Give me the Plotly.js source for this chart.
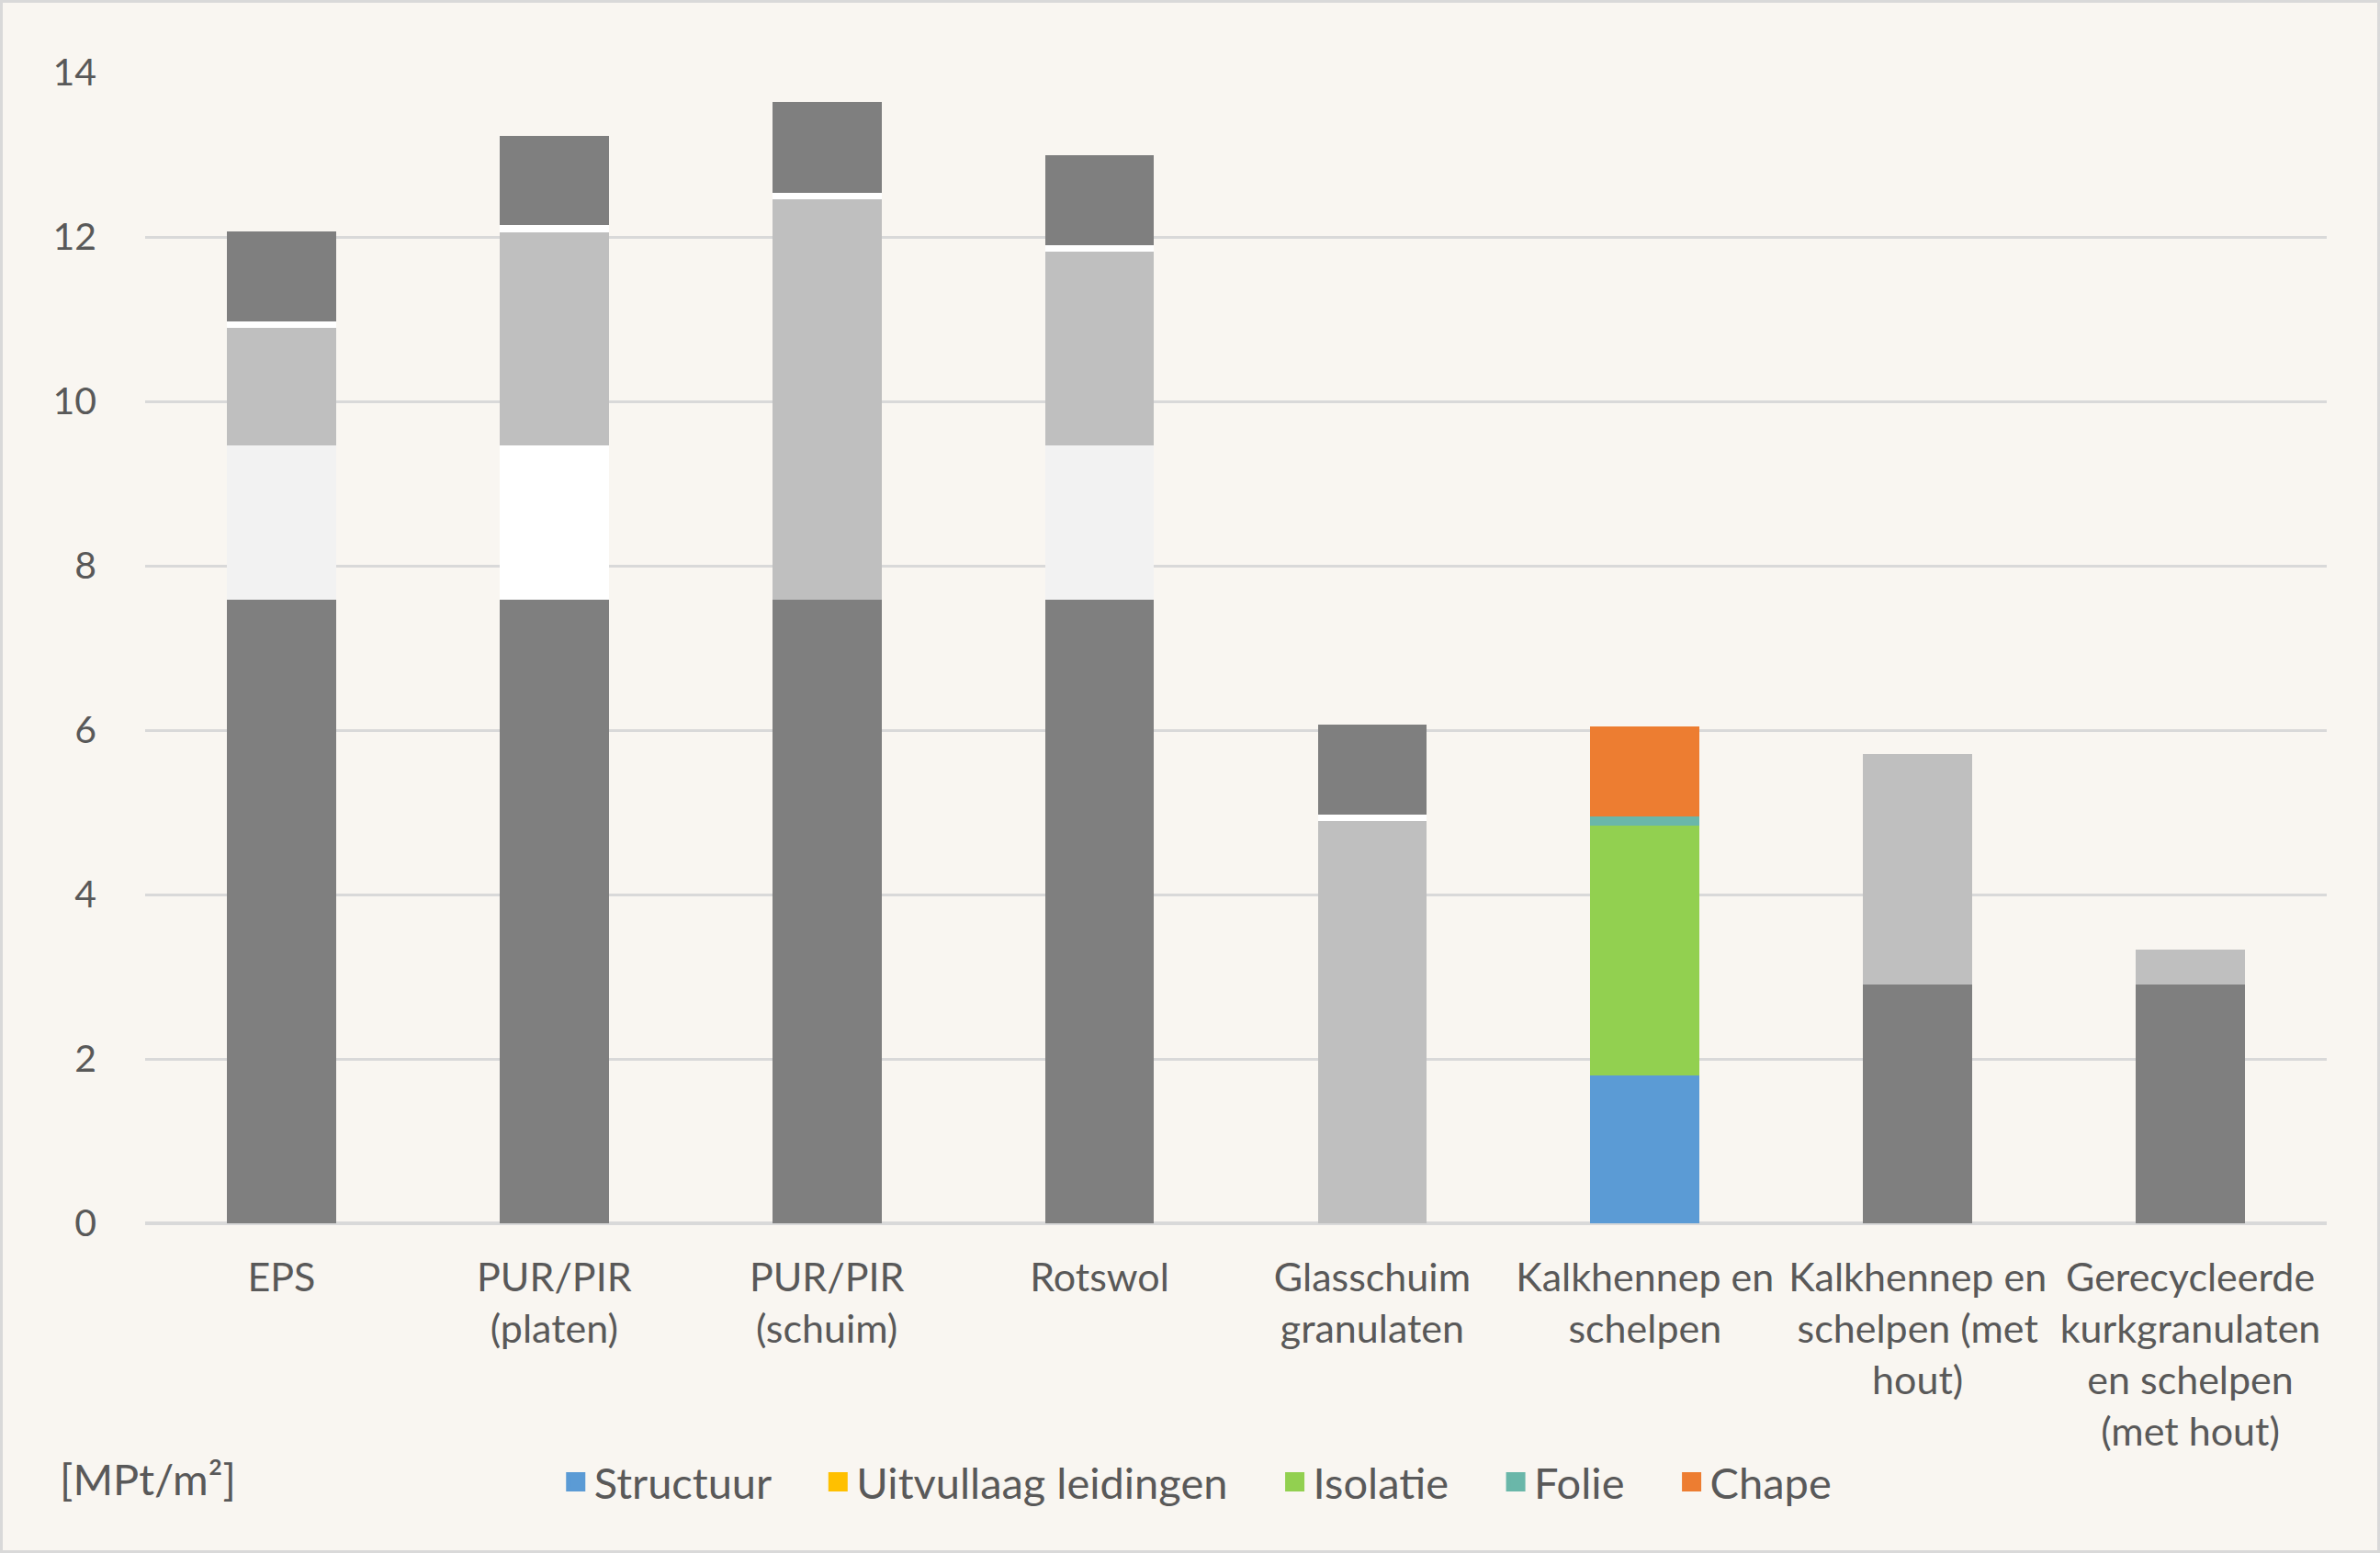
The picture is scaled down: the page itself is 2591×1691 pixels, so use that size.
<!DOCTYPE html>
<html>
<head>
<meta charset="utf-8">
<script src="https://cdn.plot.ly/plotly-3.0.1.min.js"></script>
<style>
  html, body { margin: 0; padding: 0; background: #f9f6f1; }
  #chart {
    width: 2591px;
    height: 1691px;
    box-sizing: border-box;
    border: 3px solid #d9d9d9;
  }
</style>
</head>
<body>
<div id="chart"></div>
<script>
// categories (x axis)
const categories = [
  "EPS",
  "PUR/PIR<br>(platen)",
  "PUR/PIR<br>(schuim)",
  "Rotswol",
  "Glasschuim<br>granulaten",
  "Kalkhennep en<br>schelpen",
  "Kalkhennep en<br>schelpen (met<br>hout)",
  "Gerecycleerde<br>kurkgranulaten<br>en schelpen<br>(met hout)",
];

// stacked layers, MPt/m²
const structuur = [7.59, 7.59, 7.59, 7.59, 0, 1.80, 2.90, 2.90];
const uitvullaag = [1.87, 1.87, 0, 1.87, 0, 0, 0, 0];
const isolatie = [1.43, 2.60, 4.87, 2.36, 4.89, 3.04, 2.81, 0.43];
const folie = [0.08, 0.08, 0.08, 0.08, 0.08, 0.11, 0, 0];
const chape = [1.10, 1.09, 1.10, 1.10, 1.10, 1.09, 0, 0];

const yTicks = [0, 2, 4, 6, 8, 10, 12, 14];

// only the kalkhennep bar gets the real series colours, the rest is greyed out
const DARK = "#7f7f7f";
const MID = "#bfbfbf";
const LIGHT = "#f2f2f2";
const WHITE = "#ffffff";

const series = [
  {
    name: "Structuur",
    values: structuur,
    legendColor: "#5b9bd5",
    barColors: [DARK, DARK, DARK, DARK, DARK, "#5b9bd5", DARK, DARK],
  },
  {
    name: "Uitvullaag leidingen",
    values: uitvullaag,
    legendColor: "#ffc000",
    barColors: [LIGHT, WHITE, LIGHT, LIGHT, LIGHT, "#ffc000", LIGHT, LIGHT],
  },
  {
    name: "Isolatie",
    values: isolatie,
    legendColor: "#92d050",
    barColors: [MID, MID, MID, MID, MID, "#92d050", MID, MID],
  },
  {
    name: "Folie",
    values: folie,
    legendColor: "#6ab7a9",
    barColors: [WHITE, WHITE, WHITE, WHITE, WHITE, "#6ab7a9", WHITE, WHITE],
  },
  {
    name: "Chape",
    values: chape,
    legendColor: "#ed7d31",
    barColors: [DARK, DARK, DARK, DARK, DARK, "#ed7d31", DARK, DARK],
  },
];

const FONT = 'Lato, "Open Sans", "Liberation Sans", sans-serif';
const TEXT = "#595959";
const GRID = "#d9d9d9";
const GAP = "\u00a0\u00a0\u00a0\u00a0";

const barTraces = series.map((s) => ({
  type: "bar",
  x: categories,
  y: s.values,
  name: s.name,
  showlegend: false,
  width: 0.4,
  marker: { color: s.barColors, line: { width: 0 } },
  hovertemplate: "%{y}<extra>" + s.name + "</extra>",
}));

// legend-only entries with the real series colours
const legendTraces = series.map((s, i) => ({
  type: "scatter",
  mode: "markers",
  x: [null],
  y: [null],
  name: i < series.length - 1 ? s.name + GAP : s.name,
  marker: {
    symbol: "square",
    size: 16,
    color: s.legendColor,
    line: { width: 5, color: s.legendColor },
  },
  hoverinfo: "skip",
}));

const layout = {
  width: 2585,
  height: 1685,
  paper_bgcolor: "#f9f6f1",
  plot_bgcolor: "#f9f6f1",
  font: { family: FONT, size: 43, color: TEXT },
  barmode: "stack",
  margin: { l: 155, r: 55, t: 76, b: 356 },
  xaxis: {
    type: "category",
    tickangle: 0,
    showgrid: false,
    showline: false,
    ticks: "",
    ticklabelstandoff: 30,
    tickfont: { family: FONT, size: 43, color: TEXT },
    fixedrange: true,
  },
  yaxis: {
    range: [0, 14],
    tickvals: yTicks,
    showgrid: true,
    gridcolor: GRID,
    gridwidth: 3,
    zeroline: true,
    zerolinecolor: GRID,
    zerolinewidth: 4,
    showline: false,
    ticks: "",
    ticklabelstandoff: 52,
    tickfont: { family: FONT, size: 41, color: TEXT },
    fixedrange: true,
  },
  showlegend: true,
  legend: {
    orientation: "h",
    traceorder: "normal",
    x: 0.482,
    xanchor: "center",
    y: 0.044,
    yanchor: "middle",
    yref: "container",
    bgcolor: "rgba(0,0,0,0)",
    font: { family: FONT, size: 47, color: TEXT },
    itemclick: false,
    itemdoubleclick: false,
  },
  annotations: [
    {
      text: "[MPt/m²]",
      xref: "paper",
      yref: "paper",
      x: -0.04,
      xanchor: "left",
      y: -0.222,
      yanchor: "middle",
      showarrow: false,
      font: { family: FONT, size: 47, color: TEXT },
    },
  ],
};

Plotly.newPlot("chart", barTraces.concat(legendTraces), layout, {
  displayModeBar: false,
  staticPlot: true,
});
</script>
</body>
</html>
